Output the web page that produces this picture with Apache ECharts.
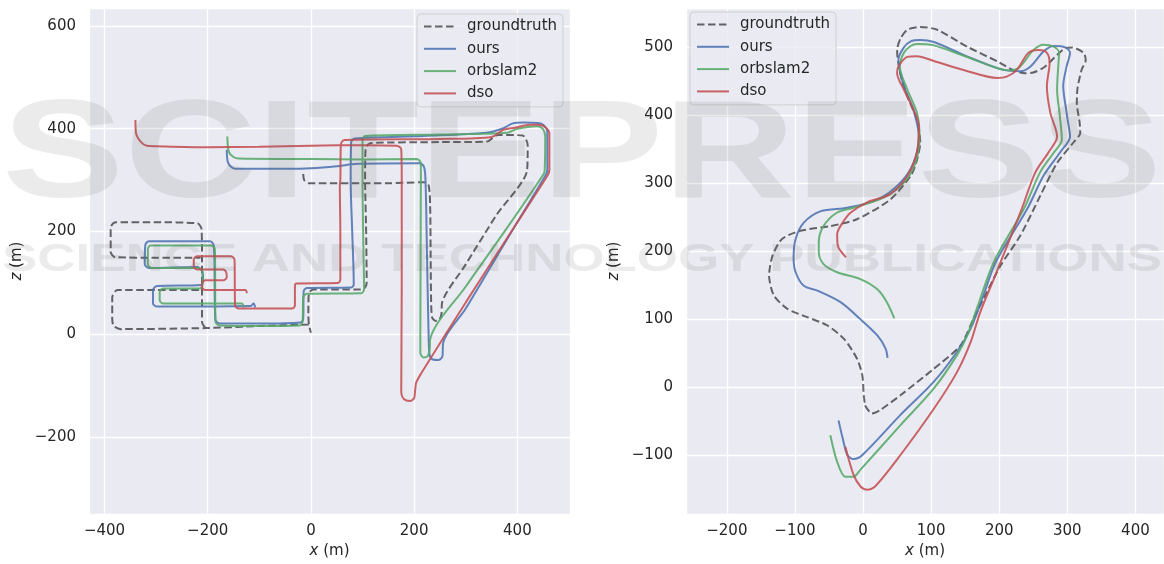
<!DOCTYPE html>
<html style="height: 100%">
  <head>
     <meta charset="utf-8">
  </head>
  <body style="height: 100%; margin: 0; background: #fff">
     <div id="container" style="width: 1164px; height: 564px"></div>
     <script type="text/javascript" src="https://cdn.jsdelivr.net/npm/echarts@6/dist/echarts.min.js"></script>
     <script type="text/javascript">
var names = ['groundtruth', 'ours', 'orbslam2', 'dso'];
var colors = ['rgba(0,0,0,0.58)', 'rgba(76,114,176,0.88)', 'rgba(85,168,104,0.88)', 'rgba(196,78,82,0.88)'];
var GAP = ['-', '-'];
var watermark = ['SCITEPRESS', 'SCIENCE AND TECHNOLOGY PUBLICATIONS'];

// left plot: x (m) / z (m)
var gtLeft = [
  [-15, 312], [-13, 300], [-5, 294], [50, 294], [150, 294], [218, 296], [228, 290], [231, 250], [232, 150],
  [233, 60], [235, 32], [242, 26], [249, 28], [253, 40], [254, 61], [300, 136], [360, 233], [419, 320],
  [420, 368], [410, 387], [362, 388], [341, 375], [250, 374], [115, 372], [106, 362], [105, 300], [107, 200],
  [108, 100], [104, 90], [95, 87], [5, 87], [-4, 80], [-5, 40], [-4, 20], [0, 3], GAP,
  [-4, 19], [-100, 16], [-205, 12], [-368, 10], [-382, 16], [-385, 30], [-385, 72], [-375, 86], [-300, 86],
  [-213, 86], GAP,
  [-205, 13], [-211, 24], [-211, 150], [-212, 205], [-220, 216], [-300, 218], [-378, 218], [-388, 208],
  [-388, 160], [-379, 150], [-300, 149], [-214, 149]
];
var oursLeft = [
  [-163, 359], [-161, 335], [-152, 324], [-140, 322], [-50, 322], [0, 323], [50, 327], [90, 332], [210, 333],
  [219, 326], [222, 300], [225, 150], [228, 0], [230, -40], [236, -49], [248, -50], [255, -42], [256, -18],
  [300, 50], [380, 185], [455, 310], [458, 320], [458, 395], [450, 408], [440, 411], [412, 412], [390, 410],
  [373, 401], [340, 392], [218, 386], [85, 381], [78, 374], [77, 300], [80, 200], [83, 97], [78, 91],
  [-7, 90], [-14, 84], [-15, 30], [-20, 23], [-100, 21], [-176, 21], [-185, 28], [-188, 170], [-195, 181],
  [-314, 181], [-321, 173], [-322, 137], [-314, 129], [-221, 131], [-211, 124], [-209, 108], [-213, 96],
  [-298, 94], [-306, 86], [-306, 60], [-298, 54], [-117, 55], [-111, 60], [-108, 52]
];
var orbLeft = [
  [-162, 385], [-159, 355], [-150, 345], [-140, 342], [0, 341], [100, 340], [205, 341], [213, 333], [213, 300],
  [212, 0], [212, -36], [218, -45], [226, -43], [230, -30], [231, -10], [300, 93], [380, 207], [451, 312],
  [453, 320], [454, 385], [449, 400], [438, 405], [400, 400], [380, 392], [250, 389], [105, 386], [100, 378],
  [100, 300], [102, 150], [103, 88], [98, 80], [-8, 79], [-15, 72], [-16, 25], [-22, 17], [-100, 16],
  [-177, 17], [-185, 25], [-186, 165], [-194, 173], [-311, 173], [-316, 165], [-316, 136], [-308, 129],
  [-220, 129], [-210, 121], [-210, 95], [-216, 89], [-287, 89], [-293, 82], [-293, 66], [-287, 60],
  [-134, 60], [-130, 52]
];
var dsoLeft = [
  [-340, 417], [-339, 392], [-330, 375], [-318, 367], [-300, 366], [-200, 364], [-100, 365], [0, 367],
  [100, 368], [166, 367], [175, 360], [176, 300], [176, 100], [175, -113], [180, -126], [192, -130],
  [200, -124], [202, -108], [204, -94], [215, -74], [300, 62], [400, 218], [459, 310], [462, 320],
  [462, 391], [453, 404], [440, 408], [425, 408], [395, 402], [373, 398], [350, 384], [250, 380], [65, 378],
  [58, 370], [57, 300], [56, 290], [57, 200], [57, 106], [52, 100], [-28, 99], [-31, 93], [-31, 56],
  [-36, 50], [-140, 50], [-147, 56], [-148, 145], [-155, 152], [-221, 152], [-227, 145], [-227, 132],
  [-221, 126], [-170, 126], [-164, 120], [-163, 111], [-170, 105], [-205, 105], [-211, 98], [-211, 92],
  [-205, 86], [-127, 86], [-124, 80]
];

// right plot
var gtRight = [
  [3, -27], [13, -39], [25, -34], [55, -12], [104, 27], [143, 61], [162, 100], [182, 140], [202, 179],
  [231, 223], [260, 281], [285, 330], [309, 360], [319, 374], [318, 390], [314, 418], [315, 440], [321, 467],
  [327, 481], [324, 492], [307, 500], [297, 499], [280, 484], [265, 470], [250, 463], [238, 462], [221, 466],
  [200, 478], [153, 501], [109, 526], [84, 530], [65, 526], [55, 513], [50, 496], [55, 460], [65, 428],
  [79, 394], [84, 360], [78, 330], [70, 311], [40, 276], [-9, 247], [-48, 237], [-92, 230], [-119, 218],
  [-133, 193], [-138, 164], [-131, 135], [-111, 115], [-82, 103], [-53, 91], [-28, 71], [-9, 42], [-1, 17],
  [1, -12], [3, -27]
];
var oursRight = [
  [-36, -49], [-30, -75], [-23, -100], [-14, -106], [-1, -100], [55, -41], [104, 8], [138, 52], [158, 86],
  [175, 130], [195, 184], [241, 262], [265, 311], [289, 345], [304, 369], [301, 390], [299, 404], [294, 443],
  [299, 472], [304, 492], [297, 500], [280, 502], [265, 494], [246, 472], [231, 465], [202, 468], [150, 488],
  [104, 508], [84, 511], [70, 509], [60, 500], [52, 482], [60, 443], [74, 408], [82, 369], [74, 330],
  [55, 301], [21, 276], [-23, 264], [-62, 259], [-87, 242], [-99, 218], [-102, 190], [-99, 169], [-87, 149],
  [-67, 142], [-33, 125], [-4, 100], [21, 76], [33, 57], [36, 43]
];
var orbRight = [
  [-48, -71], [-38, -110], [-26, -132], [-14, -132], [-4, -122], [55, -56], [104, -2], [138, 47], [153, 76],
  [167, 115], [192, 184], [236, 262], [260, 316], [280, 345], [292, 364], [289, 399], [285, 438], [287, 477],
  [288, 492], [280, 501], [265, 504], [250, 496], [231, 472], [216, 466], [150, 487], [104, 503], [79, 505],
  [70, 502], [60, 492], [54, 472], [65, 438], [79, 404], [83, 369], [77, 330], [60, 301], [30, 279],
  [-14, 264], [-38, 257], [-58, 237], [-65, 213], [-65, 198], [-58, 181], [-38, 169], [-4, 159], [21, 144],
  [35, 125], [46, 101]
];
var dsoRight = [
  [-26, -88], [-14, -129], [-4, -146], [6, -151], [18, -146], [55, -100], [104, -32], [138, 22], [158, 66],
  [172, 110], [192, 159], [202, 184], [233, 262], [253, 316], [272, 345], [285, 369], [275, 404], [270, 443],
  [274, 477], [270, 492], [258, 496], [243, 492], [226, 467], [211, 457], [197, 455], [150, 466], [104, 480],
  [79, 487], [65, 486], [52, 472], [50, 462], [60, 438], [72, 413], [82, 384], [79, 345], [65, 311],
  [40, 284], [6, 272], [-18, 257], [-30, 242], [-38, 225], [-37, 208], [-25, 191]
];

var leftData = [gtLeft, oursLeft, orbLeft, dsoLeft];
var rightData = [gtRight, oursRight, orbRight, dsoRight];

var dom = document.getElementById("container");
var myChart = echarts.init(dom);

var font = 'DejaVu Sans';
var fs = 15;
function axis(gridIndex, min, max, splitNumber, letter, isY) {
  return {
    type: 'value',
    gridIndex: gridIndex,
    min: min,
    max: max,
    splitNumber: splitNumber,
    axisLine: { show: false },
    axisTick: { show: false },
    splitLine: { lineStyle: { color: '#ffffff', width: 1.3 } },
    axisLabel: {
      showMinLabel: false,
      showMaxLabel: false,
      color: '#262626',
      fontSize: fs,
      fontFamily: font,
      margin: isY ? 13 : 10,
      formatter: function (v) { return v < 0 ? '\u2212' + (-v) : String(v); }
    },
    name: '{i|' + letter + '} (m)',
    nameLocation: 'middle',
    nameGap: isY ? 64 : 28,
    nameTextStyle: {
      color: '#262626', fontSize: fs, fontFamily: font,
      rich: { i: { fontStyle: 'italic', fontSize: fs, fontFamily: font, color: '#262626' } }
    }
  };
}

function legend(left, top) {
  return {
    data: names,
    orient: 'vertical',
    left: left,
    top: top,
    itemWidth: 32,
    itemHeight: 15,
    itemGap: 7.3,
    padding: [5, 6, 6, 6],
    backgroundColor: 'rgba(234,234,242,0.8)',
    borderColor: '#d0d0d0',
    borderWidth: 1,
    borderRadius: 4,
    itemStyle: { opacity: 0 },
    textStyle: { fontSize: fs, color: '#262626', fontFamily: font, padding: [0, 0, 0, 6] }
  };
}

var series = [];
[leftData, rightData].forEach(function (set, g) {
  set.forEach(function (d, i) {
    series.push({
      name: names[i],
      type: 'line',
      xAxisIndex: g,
      yAxisIndex: g,
      data: d,
      symbol: 'none',
      smooth: i === 0 ? 0.25 : 0.3,
      connectNulls: false,
      lineStyle: {
        color: colors[i],
        width: 2,
        type: i === 0 ? [7.5, 3.5] : 'solid'
      },
      itemStyle: { color: colors[i], opacity: 0 },
      z: 2 + i
    });
  });
});

// faint publisher watermark, stretched to the page width
var ctx = document.createElement('canvas').getContext('2d');
function stretch(text, size, width) {
  ctx.font = 'bold ' + size + 'px "Liberation Sans"';
  return width / ctx.measureText(text).width;
}
function mark(text, size, y) {
  return {
    type: 'text', x: 2, y: y, scaleX: stretch(text, size, 1160), z: 100, silent: true,
    style: {
      text: text, fontFamily: 'Liberation Sans', fontWeight: 'bold', fontSize: size,
      fill: 'rgba(90,90,90,0.12)', verticalAlign: 'middle'
    }
  };
}

option = {
  animation: false,
  backgroundColor: '#ffffff',
  grid: [
    { left: 89, top: 8, width: 481, height: 508, show: true, backgroundColor: '#EAEAF2', borderWidth: 0 },
    { left: 686, top: 8, width: 478, height: 508, show: true, backgroundColor: '#EAEAF2', borderWidth: 0 }
  ],
  xAxis: [axis(0, -430, 502, 5, 'x', false), axis(1, -260, 442, 7, 'x', false)],
  yAxis: [axis(0, -350, 635, 5, 'z', true), axis(1, -187, 558, 7, 'z', true)],
  legend: [legend(417, 14), legend(690, 12)],
  graphic: [mark(watermark[0], 140, 158), mark(watermark[1], 38, 261)],
  series: series
};

if (option && typeof option === "object") {
  myChart.setOption(option, true);
}
     </script>
  </body>
</html>
